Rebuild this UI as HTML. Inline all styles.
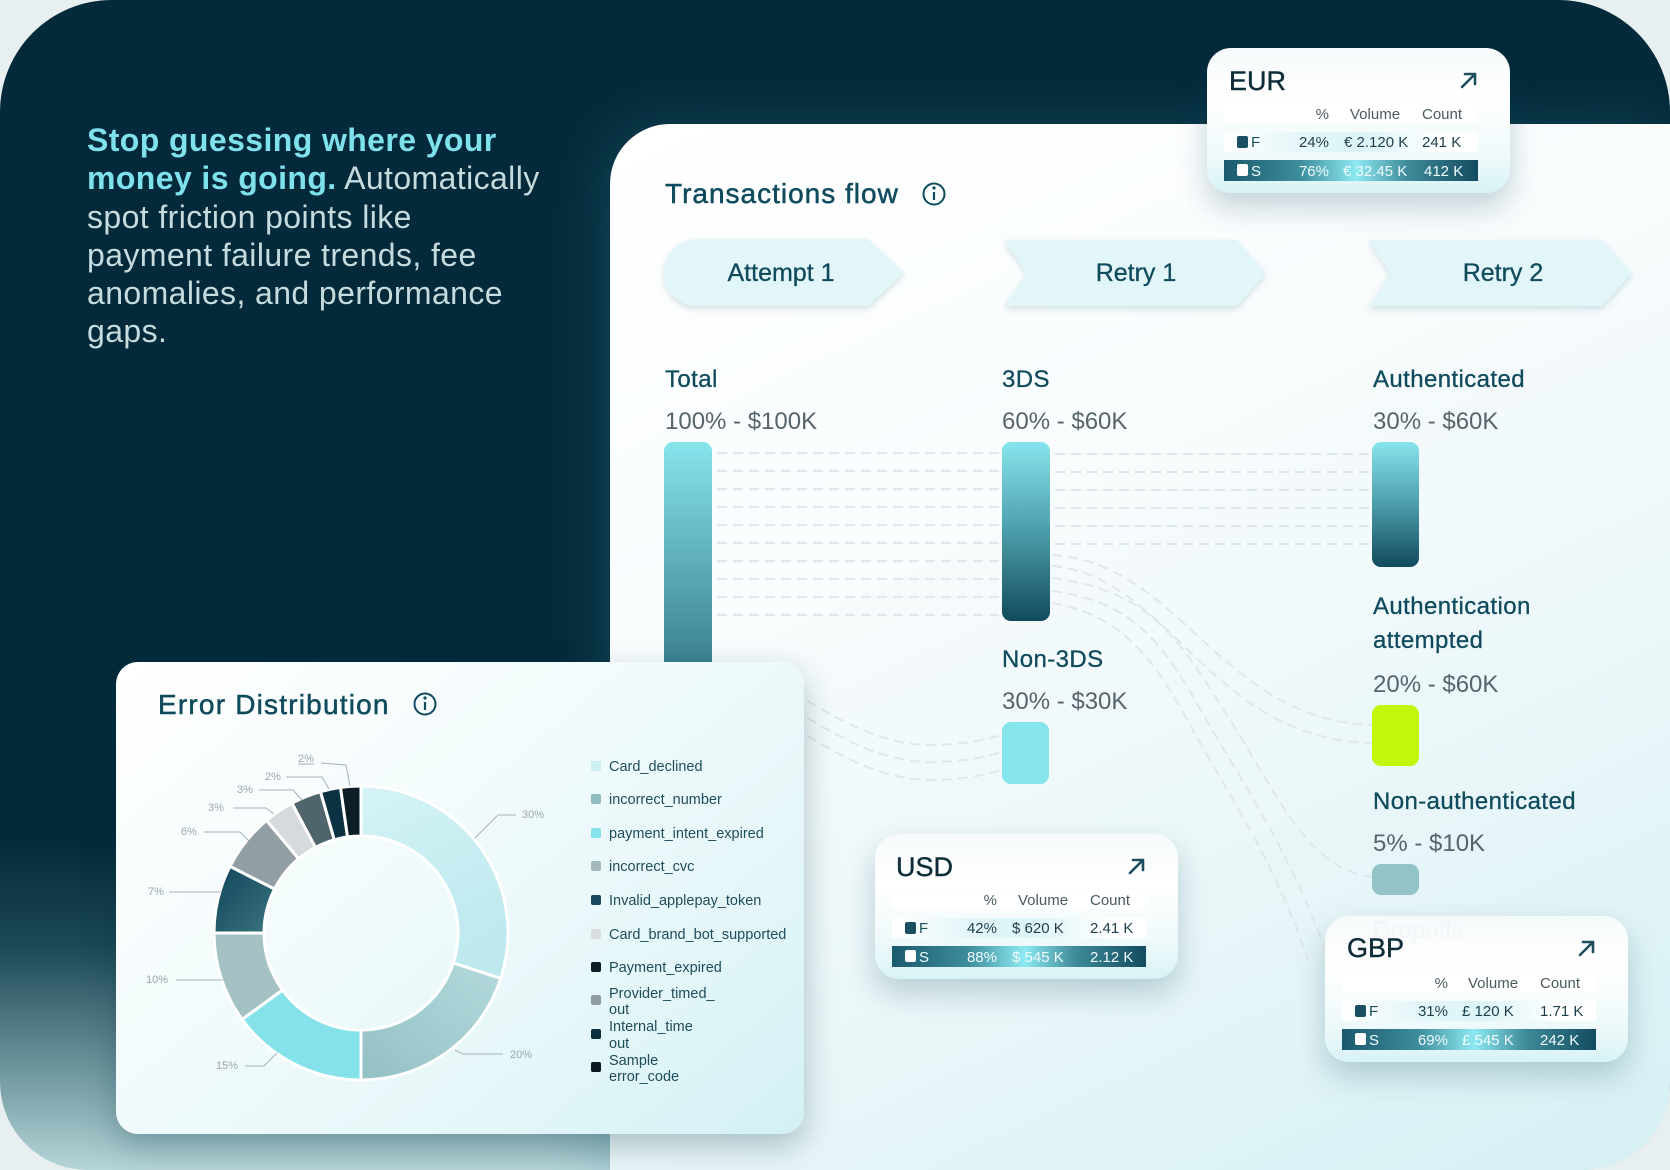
<!DOCTYPE html>
<html><head><meta charset="utf-8">
<style>
html,body{margin:0;padding:0;}
body{width:1670px;height:1170px;background:#e8eff0;position:relative;overflow:hidden;font-family:"Liberation Sans",Arial,sans-serif;}
#frame{position:absolute;left:0;top:0;width:1670px;height:1170px;border-radius:112px 112px 88px 88px;overflow:hidden;
background:linear-gradient(180deg,#032a3a 0%,#032a3a 72%,#1d4958 81%,#6a939a 91%,#b6d5d9 100%);}
#panel{position:absolute;left:610px;top:124px;width:1060px;height:1046px;border-top-left-radius:60px;
background:linear-gradient(155deg,#ffffff 0%,#f8fcfd 35%,#ebf7f9 65%,#d5f0f4 100%);box-shadow:-8px 0 60px rgba(60,130,150,0.30);}
.layer{position:absolute;left:0;top:0;}
#head{position:absolute;left:87px;top:121px;font-size:32px;line-height:38.3px;letter-spacing:0.4px;color:#c6dbde;white-space:nowrap;}
#head b{color:#7fe1eb;font-weight:bold;}
#err{position:absolute;left:116px;top:662px;width:688px;height:472px;border-radius:22px;
background:linear-gradient(140deg,#ffffff 0%,#f3fbfc 40%,#e3f6f8 75%,#d3f0f4 100%);box-shadow:0 12px 32px rgba(0,45,60,0.28);}
.card{position:absolute;width:303px;height:145px;border-radius:24px;
background:linear-gradient(180deg,#f6fafb 0%,#ffffff 35%,#eef9fa 75%,#d8f3f6 100%);box-shadow:0 14px 30px rgba(0,60,80,0.22);}
.card svg{position:absolute;left:0;top:0;}
</style></head>
<body>
<div id="frame">
  <div id="panel"></div>
  <div id="head"><b>Stop guessing where your</b><br><b>money is going.</b> Automatically<br>spot friction points like<br>payment failure trends, fee<br>anomalies, and performance<br>gaps.</div>

  <svg class="layer" width="1670" height="1170" viewBox="0 0 1670 1170" font-family="Liberation Sans, Arial, sans-serif">
    <defs>
      <linearGradient id="barT" gradientUnits="userSpaceOnUse" x1="0" y1="442" x2="0" y2="760">
        <stop offset="0" stop-color="#87e4ed"/><stop offset="1" stop-color="#1a5468"/>
      </linearGradient>
      <linearGradient id="bar3" x1="0" y1="0" x2="0" y2="1">
        <stop offset="0" stop-color="#87e4ed"/><stop offset="0.5" stop-color="#4c9dab"/><stop offset="1" stop-color="#114a5d"/>
      </linearGradient>
      <filter id="chsh" x="-10%" y="-20%" width="120%" height="160%">
        <feDropShadow dx="0" dy="3" stdDeviation="3" flood-color="#0a4a5a" flood-opacity="0.16"/>
      </filter>
    </defs>

    <!-- dashed flows -->
    <g stroke="#e0e7ea" stroke-width="2" stroke-dasharray="10 6" fill="none">
      <line x1="717" y1="453" x2="1000" y2="453"/>
      <line x1="717" y1="471" x2="1000" y2="471"/>
      <line x1="717" y1="489" x2="1000" y2="489"/>
      <line x1="717" y1="507" x2="1000" y2="507"/>
      <line x1="717" y1="525" x2="1000" y2="525"/>
      <line x1="717" y1="543" x2="1000" y2="543"/>
      <line x1="717" y1="561" x2="1000" y2="561"/>
      <line x1="717" y1="579" x2="1000" y2="579"/>
      <line x1="717" y1="597" x2="1000" y2="597"/>
      <line x1="717" y1="615" x2="1000" y2="615"/>
      <line x1="1055" y1="454" x2="1370" y2="454"/>
      <line x1="1055" y1="472" x2="1370" y2="472"/>
      <line x1="1055" y1="490" x2="1370" y2="490"/>
      <line x1="1055" y1="508" x2="1370" y2="508"/>
      <line x1="1055" y1="526" x2="1370" y2="526"/>
      <line x1="1055" y1="544" x2="1370" y2="544"/>
      <path d="M780,684 C830,715 880,748 940,745 C975,743 990,738 1002,735"/>
      <path d="M780,701 C830,732 880,765 940,762 C975,760 990,755 1002,752"/>
      <path d="M780,719 C830,750 880,783 940,780 C975,778 990,773 1002,770"/>
      <path d="M1052,555 C1180,562 1220,720 1372,725"/>
      <path d="M1052,566 C1170,576 1210,740 1372,743"/>
      <path d="M1052,578 C1150,590 1180,640 1230,720 C1280,800 1310,870 1372,877"/>
      <path d="M1052,591 C1130,601 1160,640 1195,700 C1240,780 1290,850 1325,950"/>
      <path d="M1052,603 C1120,615 1150,655 1183,712 C1225,790 1275,860 1308,960"/>
    </g>

    <!-- bars -->
    <rect x="664" y="442" width="48" height="300" rx="9" fill="url(#barT)"/>
    <rect x="1002" y="442" width="48" height="179" rx="9" fill="url(#bar3)"/>
    <rect x="1372" y="442" width="47" height="125" rx="9" fill="url(#bar3)"/>
    <rect x="1002" y="722" width="47" height="62" rx="9" fill="#86e4ec"/>
    <rect x="1372" y="705" width="47" height="61" rx="9" fill="#c3f60d"/>
    <rect x="1372" y="864" width="47" height="31" rx="9" fill="#93c3c7"/>

    <!-- title -->
    <text x="665" y="203" font-size="28" letter-spacing="1.0" fill="#0f4b5d" stroke="#0f4b5d" stroke-width="0.5">Transactions flow</text>
    <g stroke="#0f4b5d" fill="none">
      <circle cx="934" cy="194" r="10.5" stroke-width="2"/>
      <line x1="934" y1="192" x2="934" y2="200" stroke-width="2.2"/>
    </g>
    <circle cx="934" cy="188" r="1.6" fill="#0f4b5d"/>

    <!-- chevrons -->
    <g fill="#e2f6f9" filter="url(#chsh)">
      <path d="M697,239 L868,239 L904,272.5 L868,306 L697,306 A33.5,33.5 0 0 1 697,239 Z"/>
      <path d="M1004,240 L1237,240 L1266,273 L1237,306 L1004,306 L1027,273 Z"/>
      <path d="M1369,240 L1602,240 L1632,273 L1602,306 L1369,306 L1390,273 Z"/>
    </g>
    <g font-size="25" fill="#0f4b5d" text-anchor="middle" stroke="#0f4b5d" stroke-width="0.3">
      <text x="781" y="281">Attempt 1</text>
      <text x="1136" y="281">Retry 1</text>
      <text x="1503" y="281">Retry 2</text>
    </g>

    <!-- column labels -->
    <g font-size="24" fill="#0f4b5d" letter-spacing="0.4" stroke="#0f4b5d" stroke-width="0.3">
      <text x="665" y="387">Total</text>
      <text x="1002" y="387">3DS</text>
      <text x="1373" y="387">Authenticated</text>
      <text x="1002" y="667">Non-3DS</text>
      <text x="1373" y="614">Authentication</text>
      <text x="1373" y="648">attempted</text>
      <text x="1373" y="809">Non-authenticated</text>
    </g>
    <g font-size="24" fill="#56656b">
      <text x="665" y="429">100% - $100K</text>
      <text x="1002" y="429">60% - $60K</text>
      <text x="1373" y="429">30% - $60K</text>
      <text x="1002" y="709">30% - $30K</text>
      <text x="1373" y="692">20% - $60K</text>
      <text x="1373" y="851">5% - $10K</text>
    </g>
  </svg>

  <div id="err"></div>

  <svg class="layer" width="1670" height="1170" viewBox="0 0 1670 1170" font-family="Liberation Sans, Arial, sans-serif">
    <defs>
      <linearGradient id="g1" x1="0" y1="0" x2="0.4" y2="1">
        <stop offset="0" stop-color="#d5f3f6"/><stop offset="1" stop-color="#bde9ee"/>
      </linearGradient>
      <linearGradient id="g2" x1="1" y1="0" x2="0" y2="1">
        <stop offset="0" stop-color="#b3dadd"/><stop offset="1" stop-color="#93c0c4"/>
      </linearGradient>
      <linearGradient id="g5" x1="0" y1="0" x2="1" y2="1">
        <stop offset="0" stop-color="#0f465a"/><stop offset="1" stop-color="#3d7480"/>
      </linearGradient>
    </defs>
    <text x="158" y="714" font-size="28" letter-spacing="1.2" fill="#0f4b5d" stroke="#0f4b5d" stroke-width="0.5">Error Distribution</text>
    <g stroke="#0f4b5d" fill="none">
      <circle cx="425" cy="704" r="10.5" stroke-width="2"/>
      <line x1="425" y1="702" x2="425" y2="710" stroke-width="2.2"/>
    </g>
    <circle cx="425" cy="698" r="1.6" fill="#0f4b5d"/>

    <g stroke="#ffffff" stroke-width="3" stroke-linejoin="round">
      <path d="M361,786 A147,147 0 0 1 500.8,978.4 L453.3,963.0 A97,97 0 0 0 361,836 Z" fill="url(#g1)"/>
      <path d="M500.8,978.4 A147,147 0 0 1 361,1080 L361,1030 A97,97 0 0 0 453.3,963.0 Z" fill="url(#g2)"/>
      <path d="M361,1080 A147,147 0 0 1 242.1,1019.4 L282.5,990.0 A97,97 0 0 0 361,1030 Z" fill="#86e2ea"/>
      <path d="M242.1,1019.4 A147,147 0 0 1 214,933 L264,933 A97,97 0 0 0 282.5,990.0 Z" fill="#a4c1c4"/>
      <path d="M214,933 A147,147 0 0 1 230.0,866.3 L274.6,889.0 A97,97 0 0 0 264,933 Z" fill="url(#g5)"/>
      <path d="M230.0,866.3 A147,147 0 0 1 266.5,820.4 L298.6,858.7 A97,97 0 0 0 274.6,889.0 Z" fill="#919fa5"/>
      <path d="M266.5,820.4 A147,147 0 0 1 292.0,803.2 L315.5,847.4 A97,97 0 0 0 298.6,858.7 Z" fill="#d5dadd"/>
      <path d="M292.0,803.2 A147,147 0 0 1 320.5,791.7 L334.3,839.8 A97,97 0 0 0 315.5,847.4 Z" fill="#4f646c"/>
      <path d="M320.5,791.7 A147,147 0 0 1 340.5,787.4 L347.5,836.9 A97,97 0 0 0 334.3,839.8 Z" fill="#0b3243"/>
      <path d="M340.5,787.4 A147,147 0 0 1 361,786 L361,836 A97,97 0 0 0 347.5,836.9 Z" fill="#0c1e25"/>
    </g>

    <g stroke="#a5b3b7" stroke-width="1" fill="none">
      <polyline points="475,838 498,815 516,815"/>
      <polyline points="455,1050 463,1054 503,1054"/>
      <polyline points="277,1053 264,1066 245,1066"/>
      <polyline points="223,980 176,980"/>
      <polyline points="221,892 169,892"/>
      <polyline points="249,841 240,832 204,832"/>
      <polyline points="274,814 266,808 233,808"/>
      <polyline points="302,800 293,790 259,790"/>
      <polyline points="329,789 322,777 286,777"/>
      <polyline points="350,786 346,765 321,763"/>
      <line x1="298" y1="764" x2="314" y2="764"/>
    </g>
    <g font-size="11" fill="#98a7ac">
      <text x="522" y="818">30%</text>
      <text x="510" y="1058">20%</text>
      <text x="216" y="1069">15%</text>
      <text x="146" y="983">10%</text>
      <text x="148" y="895">7%</text>
      <text x="181" y="835">6%</text>
      <text x="208" y="811">3%</text>
      <text x="237" y="793">3%</text>
      <text x="265" y="780">2%</text>
      <text x="298" y="762">2%</text>
    </g>

    <!-- legend -->
    <g>
      <rect x="591" y="761" width="10" height="10" rx="2" fill="#cdeff3"/>
      <rect x="591" y="794" width="10" height="10" rx="2" fill="#8fbcc1"/>
      <rect x="591" y="828" width="10" height="10" rx="2" fill="#86e3ec"/>
      <rect x="591" y="861" width="10" height="10" rx="2" fill="#a3b9bc"/>
      <rect x="591" y="895" width="10" height="10" rx="2" fill="#16495c"/>
      <rect x="591" y="929" width="10" height="10" rx="2" fill="#d9dde0"/>
      <rect x="591" y="962" width="10" height="10" rx="2" fill="#0d1f26"/>
      <rect x="591" y="995" width="10" height="10" rx="2" fill="#8f9ca1"/>
      <rect x="591" y="1029" width="10" height="10" rx="2" fill="#0b2f3c"/>
      <rect x="591" y="1062" width="10" height="10" rx="2" fill="#0c1b21"/>
    </g>
    <g font-size="14.5" fill="#1e4d5c">
      <text x="609" y="771">Card_declined</text>
      <text x="609" y="804">incorrect_number</text>
      <text x="609" y="838">payment_intent_expired</text>
      <text x="609" y="871">incorrect_cvc</text>
      <text x="609" y="905">Invalid_applepay_token</text>
      <text x="609" y="939">Card_brand_bot_supported</text>
      <text x="609" y="972">Payment_expired</text>
      <text x="609" y="998">Provider_timed_</text>
      <text x="609" y="1014">out</text>
      <text x="609" y="1031">Internal_time</text>
      <text x="609" y="1048">out</text>
      <text x="609" y="1065">Sample</text>
      <text x="609" y="1081">error_code</text>
    </g>
  </svg>

  <!-- EUR -->
  <div class="card" style="left:1207px;top:48px;">
    <svg width="303" height="145" font-family="Liberation Sans, Arial, sans-serif">
      <defs>
        <linearGradient id="fE" x1="0" y1="0" x2="1" y2="0"><stop offset="0" stop-color="#ffffff"/><stop offset="0.3" stop-color="#e4f6f9"/><stop offset="0.55" stop-color="#dcf4f7"/><stop offset="0.85" stop-color="#ffffff"/></linearGradient>
        <linearGradient id="sE" x1="0" y1="0" x2="1" y2="0"><stop offset="0" stop-color="#1b5a6e"/><stop offset="0.3" stop-color="#3d8d9c"/><stop offset="0.52" stop-color="#8de9f1"/><stop offset="0.72" stop-color="#3f8b9a"/><stop offset="1" stop-color="#134b5f"/></linearGradient>
      </defs>
      <text x="22" y="42" font-size="27" fill="#0d2c38" stroke="#0d2c38" stroke-width="0.4">EUR</text>
      <path d="M255,39 L268,26 M258,26 L268,26 L268,36" stroke="#1d4e5e" stroke-width="2.6" fill="none" stroke-linecap="round" stroke-linejoin="round"/>
      <rect x="17" y="56" width="254" height="19" fill="#ffffff"/>
      <g font-size="15" fill="#4a5a60"><text x="122" y="71" text-anchor="end">%</text><text x="143" y="71">Volume</text><text x="215" y="71">Count</text></g>
      <rect x="17" y="84" width="254" height="20" fill="url(#fE)"/>
      <rect x="30" y="88" width="11" height="12" rx="2" fill="#1a4f62"/>
      <g font-size="15" fill="#1d3f4b"><text x="44" y="99" fill="#1d4e5e">F</text><text x="122" y="99" text-anchor="end">24%</text><text x="137" y="99">€ 2.120 K</text><text x="215" y="99">241 K</text></g>
      <rect x="17" y="112" width="254" height="21" fill="url(#sE)"/>
      <rect x="30" y="116" width="11" height="12" rx="2" fill="#ffffff"/>
      <g font-size="15" fill="#f0fcfd"><text x="44" y="128">S</text><text x="122" y="128" text-anchor="end">76%</text><text x="136" y="128">€ 32.45 K</text><text x="217" y="128">412 K</text></g>
    </svg>
  </div>

  <!-- USD -->
  <div class="card" style="left:875px;top:834px;">
    <svg width="303" height="145" font-family="Liberation Sans, Arial, sans-serif">
      <defs>
        <linearGradient id="fU" x1="0" y1="0" x2="1" y2="0"><stop offset="0" stop-color="#ffffff"/><stop offset="0.3" stop-color="#e4f6f9"/><stop offset="0.55" stop-color="#dcf4f7"/><stop offset="0.85" stop-color="#ffffff"/></linearGradient>
        <linearGradient id="sU" x1="0" y1="0" x2="1" y2="0"><stop offset="0" stop-color="#1b5a6e"/><stop offset="0.3" stop-color="#3d8d9c"/><stop offset="0.52" stop-color="#8de9f1"/><stop offset="0.72" stop-color="#3f8b9a"/><stop offset="1" stop-color="#134b5f"/></linearGradient>
      </defs>
      <text x="21" y="42" font-size="27" fill="#0d2c38" stroke="#0d2c38" stroke-width="0.4">USD</text>
      <path d="M255,39 L268,26 M258,26 L268,26 L268,36" stroke="#1d4e5e" stroke-width="2.6" fill="none" stroke-linecap="round" stroke-linejoin="round"/>
      <rect x="17" y="56" width="254" height="19" fill="#ffffff"/>
      <g font-size="15" fill="#4a5a60"><text x="122" y="71" text-anchor="end">%</text><text x="143" y="71">Volume</text><text x="215" y="71">Count</text></g>
      <rect x="17" y="84" width="254" height="20" fill="url(#fU)"/>
      <rect x="30" y="88" width="11" height="12" rx="2" fill="#1a4f62"/>
      <g font-size="15" fill="#1d3f4b"><text x="44" y="99" fill="#1d4e5e">F</text><text x="122" y="99" text-anchor="end">42%</text><text x="137" y="99">$ 620 K</text><text x="215" y="99">2.41 K</text></g>
      <rect x="17" y="112" width="254" height="21" fill="url(#sU)"/>
      <rect x="30" y="116" width="11" height="12" rx="2" fill="#ffffff"/>
      <g font-size="15" fill="#f0fcfd"><text x="44" y="128">S</text><text x="122" y="128" text-anchor="end">88%</text><text x="137" y="128">$ 545 K</text><text x="215" y="128">2.12 K</text></g>
    </svg>
  </div>

  <!-- GBP -->
  <div class="card" style="left:1325px;top:916px;height:146px;">
    <svg width="303" height="146" font-family="Liberation Sans, Arial, sans-serif">
      <defs>
        <linearGradient id="fG" x1="0" y1="0" x2="1" y2="0"><stop offset="0" stop-color="#ffffff"/><stop offset="0.3" stop-color="#e4f6f9"/><stop offset="0.55" stop-color="#dcf4f7"/><stop offset="0.85" stop-color="#ffffff"/></linearGradient>
        <linearGradient id="sG" x1="0" y1="0" x2="1" y2="0"><stop offset="0" stop-color="#1b5a6e"/><stop offset="0.3" stop-color="#3d8d9c"/><stop offset="0.52" stop-color="#8de9f1"/><stop offset="0.72" stop-color="#3f8b9a"/><stop offset="1" stop-color="#134b5f"/></linearGradient>
      </defs>
      <text x="48" y="22" font-size="24" fill="#0f4b5d" fill-opacity="0.03">Dropoffs</text>
      <text x="22" y="41" font-size="27" fill="#0d2c38" stroke="#0d2c38" stroke-width="0.4">GBP</text>
      <path d="M255,39 L268,26 M258,26 L268,26 L268,36" stroke="#1d4e5e" stroke-width="2.6" fill="none" stroke-linecap="round" stroke-linejoin="round"/>
      <rect x="17" y="57" width="254" height="19" fill="#ffffff"/>
      <g font-size="15" fill="#4a5a60"><text x="123" y="72" text-anchor="end">%</text><text x="143" y="72">Volume</text><text x="215" y="72">Count</text></g>
      <rect x="17" y="85" width="254" height="20" fill="url(#fG)"/>
      <rect x="30" y="89" width="11" height="12" rx="2" fill="#1a4f62"/>
      <g font-size="15" fill="#1d3f4b"><text x="44" y="100" fill="#1d4e5e">F</text><text x="123" y="100" text-anchor="end">31%</text><text x="137" y="100">£ 120 K</text><text x="215" y="100">1.71 K</text></g>
      <rect x="17" y="113" width="254" height="21" fill="url(#sG)"/>
      <rect x="30" y="117" width="11" height="12" rx="2" fill="#ffffff"/>
      <g font-size="15" fill="#f0fcfd"><text x="44" y="129">S</text><text x="123" y="129" text-anchor="end">69%</text><text x="137" y="129">£ 545 K</text><text x="215" y="129">242 K</text></g>
    </svg>
  </div>
</div>
</body></html>
